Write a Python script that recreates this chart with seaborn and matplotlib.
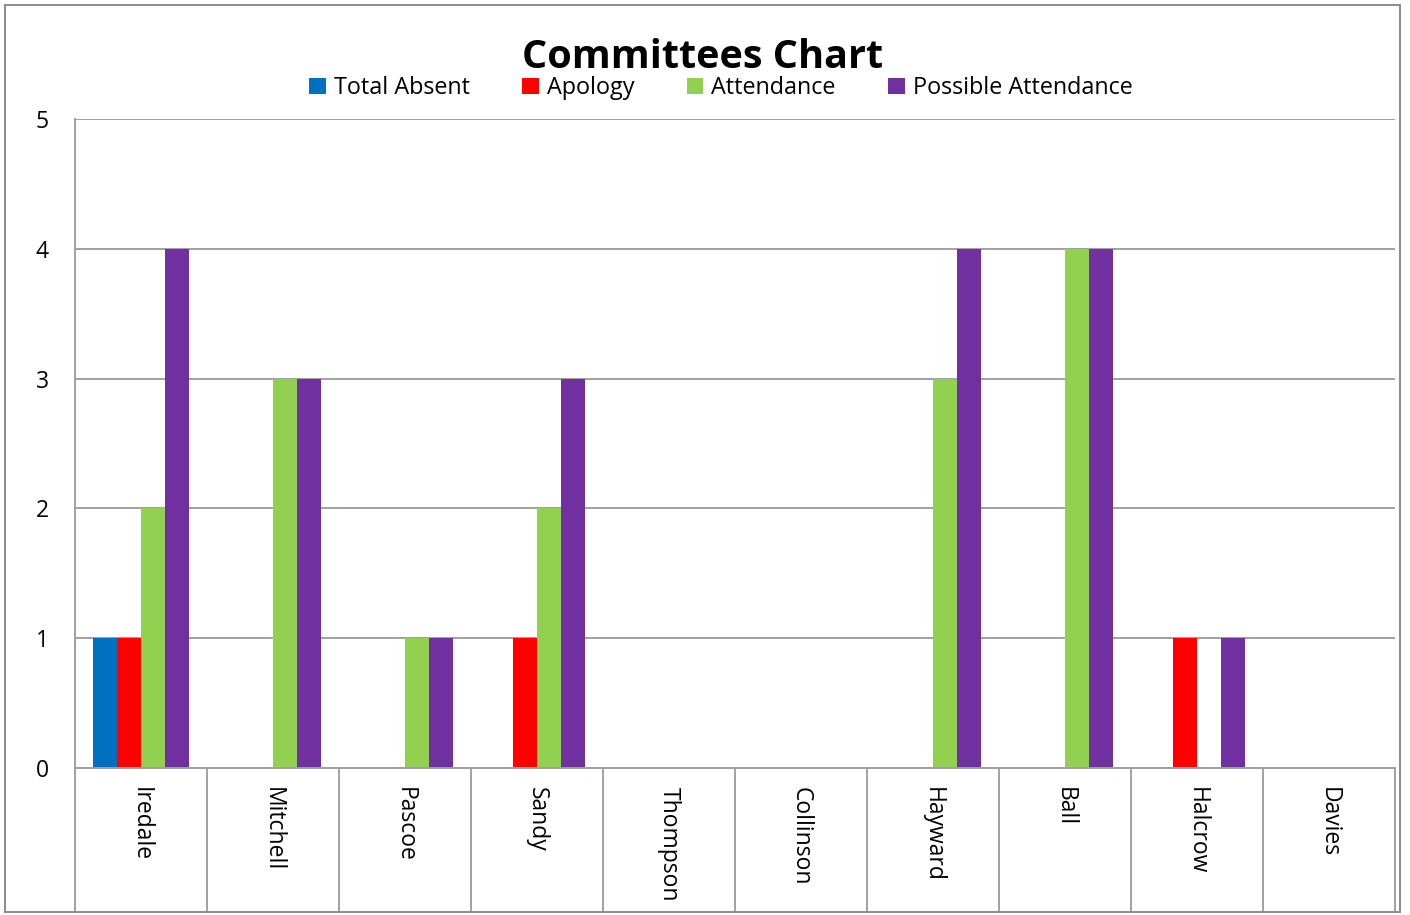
import numpy as np
import pandas as pd
import matplotlib
matplotlib.use("Agg")
import matplotlib.pyplot as plt
from matplotlib.patches import Rectangle
import seaborn as sns

names = ["Iredale", "Mitchell", "Pascoe", "Sandy", "Thompson",
         "Collinson", "Hayward", "Ball", "Halcrow", "Davies"]
series = ["Total Absent", "Apology", "Attendance", "Possible Attendance"]
total_absent = [1, 0, 0, 0, 0, 0, 0, 0, 0, 0]
apology = [1, 0, 0, 1, 0, 0, 0, 0, 1, 0]
attendance = [2, 3, 1, 2, 0, 0, 3, 4, 0, 0]
possible = [4, 3, 1, 3, 0, 0, 4, 4, 1, 0]
colors = ["#0070C0", "#FF0000", "#92D050", "#7030A0"]
yticks = [0, 1, 2, 3, 4, 5]

rows = []
for s, vals in zip(series, [total_absent, apology, attendance, possible]):
    for n, v in zip(names, vals):
        rows.append({"Name": n, "Series": s, "Value": v})
df = pd.DataFrame(rows)

sns.set_theme(style="white")
plt.rcParams["font.family"] = ["Open Sans", "DejaVu Sans"]
plt.rcParams["text.color"] = "black"
plt.rcParams["xtick.color"] = "black"
plt.rcParams["ytick.color"] = "black"

W, H = 1410, 915
fig = plt.figure(figsize=(W / 100, H / 100), dpi=100)
ax = fig.add_axes([75 / W, 1 - 768 / H, (1395 - 75) / W, (768 - 119) / H])

sns.barplot(data=df, x="Name", y="Value", hue="Series", order=names,
            hue_order=series, palette=colors, width=0.727, gap=0,
            saturation=1, linewidth=0, ax=ax)

handles, labels = ax.get_legend_handles_labels()
if ax.get_legend() is not None:
    ax.get_legend().remove()

grid_c = "#A0A0A0"
ax.set_xlim(-0.5, len(names) - 0.5)
ax.set_ylim(0, 5)
ax.set_yticks(yticks)
ax.set_yticklabels([str(t) for t in yticks], fontsize=16.5, color="black")
ax.yaxis.grid(True, color=grid_c, linewidth=1.4)
ax.set_axisbelow(True)
ax.set_xlabel("")
ax.set_ylabel("")
for sp in ["top", "right"]:
    ax.spines[sp].set_visible(False)
for sp in ["left", "bottom"]:
    ax.spines[sp].set_color(grid_c)
    ax.spines[sp].set_linewidth(1.4)

ax.set_xticks(range(len(names)))
ax.set_xticklabels(names, rotation=-90, fontsize=16.5, va="top", ha="center",
                   color="black")
ax.set_xticks(np.arange(-0.5, len(names)), minor=True)
ax.tick_params(axis="x", which="both", bottom=True)
ax.tick_params(axis="x", which="major", length=0, pad=14)
ax.tick_params(axis="x", which="minor", length=144 * 0.72, width=1.4,
               color=grid_c, direction="out")
ax.tick_params(axis="y", left=False, length=0, pad=19)

fig.text(703 / W, 1 - 57 / H, "Committees Chart", ha="center", va="center",
         fontsize=28.5, fontweight="bold", color="black")
fig.legend(handles, labels, loc="center", bbox_to_anchor=(721 / W, 1 - 88 / H),
           ncol=4, frameon=False, fontsize=16.8, handlelength=0.7,
           handleheight=0.7, handletextpad=0.35, columnspacing=2.25,
           borderaxespad=0)

fig.patches.append(Rectangle((5 / W, 1 - 912 / H), (1400 - 5) / W, (912 - 5) / H,
                             transform=fig.transFigure, fill=False,
                             edgecolor="#8C8C8C", linewidth=1.4))

fig.savefig("out.png", dpi=100)
